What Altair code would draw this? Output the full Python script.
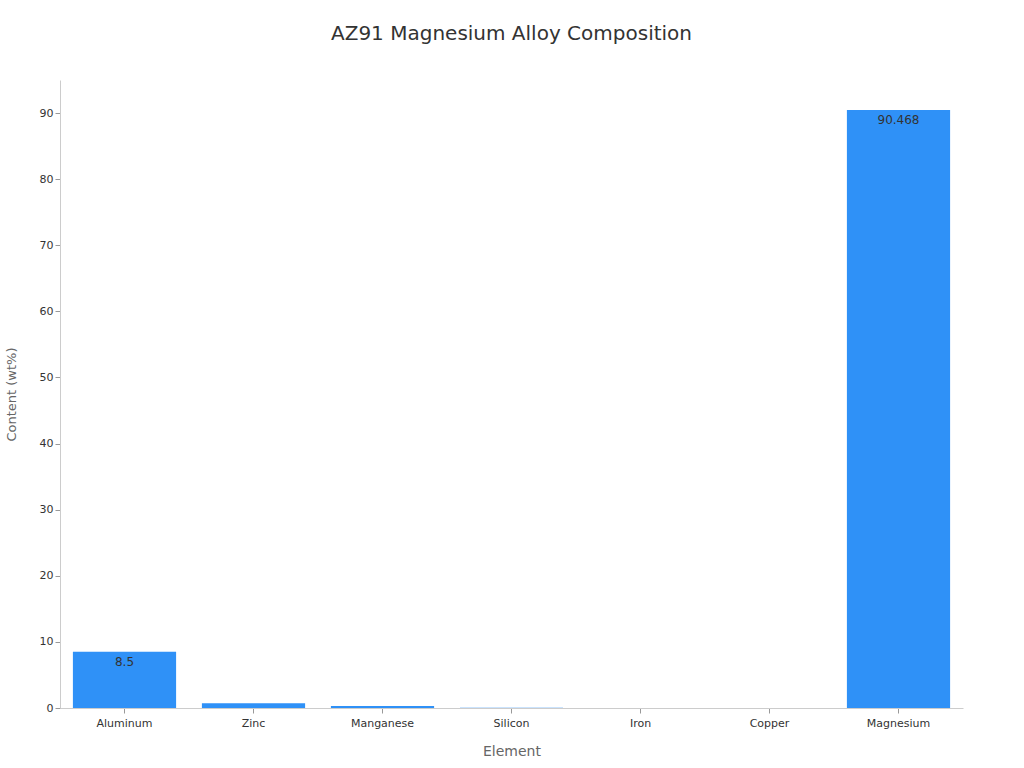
import altair as alt
import pandas as pd

elements = ["Aluminum", "Zinc", "Manganese", "Silicon", "Iron", "Copper", "Magnesium"]
content = [8.5, 0.7, 0.3, 0.02, 0.004, 0.008, 90.468]
labels = ["8.5", "0.7", "0.3", "0.02", "0.004", "0.008", "90.468"]

df = pd.DataFrame({"Element": elements, "Content": content, "Label": labels})

FONT = "DejaVu Sans"

x = alt.X("Element:N", sort=elements, title="Element",
          scale=alt.Scale(paddingInner=0.2, paddingOuter=0.1),
          axis=alt.Axis(labelAngle=0, labelFontSize=11, labelColor="#333", titleFontSize=14,
                        titleColor="#666", titleFontWeight="normal", titlePadding=16,
                        domainColor="#ccc", tickColor="#999", labelPadding=4))
y = alt.Y("Content:Q", title="Content (wt%)",
          scale=alt.Scale(domain=[0, 95], nice=False),
          axis=alt.Axis(values=[0, 10, 20, 30, 40, 50, 60, 70, 80, 90], grid=False,
                        labelFontSize=11, labelColor="#333", titleFontSize=13,
                        titleColor="#666", titleFontWeight="normal", titlePadding=21,
                        domainColor="#ccc", tickColor="#999"))

bars = alt.Chart(df).mark_bar(color="#2f91f7").encode(x=x, y=y)
text = alt.Chart(df).transform_filter(alt.datum.Content >= 0.1).mark_text(
    baseline="top", dy=5, fontSize=12, color="#333", clip=True).encode(
    x=alt.X("Element:N", sort=elements), y="Content:Q", text="Label:N")

chart = (bars + text).properties(
    width=903, height=628,
    title=alt.TitleParams("AZ91 Magnesium Alloy Composition", fontSize=20, fontWeight="normal",
                          color="#333", offset=36, font=FONT),
    autosize=alt.AutoSizeParams(type="none"),
    padding={"left": 60, "top": 80, "right": 61, "bottom": 60},
).configure(font=FONT).configure_view(strokeWidth=0)

chart.save("out.html", embed_options={"renderer": "svg", "actions": False})
